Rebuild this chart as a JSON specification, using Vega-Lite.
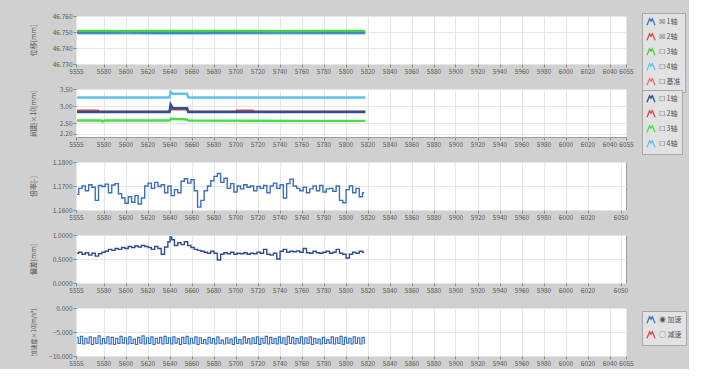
{
  "$schema": "https://vega.github.io/schema/vega-lite/v6.json",
  "background": "#d0d0d0",
  "padding": {"left": 28, "top": 12, "right": 2, "bottom": 2},
  "spacing": 25,
  "bounds": "flush",
  "config": {
    "font": "Noto Sans CJK SC",
    "view": {"fill": "#ffffff", "stroke": "#9c9c9c", "strokeWidth": 1},
    "axis": {"labelFontSize": 6.5, "labelColor": "#5a5a5a", "titleFontSize": 7, "titleColor": "#555555", "titleFontWeight": "normal", "tickColor": "#8a8a8a", "tickSize": 3, "domain": false, "gridColor": "#e6e6e6", "labelPadding": 1},
    "axisX": {"labelFlush": false, "labelOverlap": false, "format": "d", "title": null},
    "axisY": {"titleX": -40},
    "legend": {"orient": "none", "legendX": 566, "fillColor": "#e2e2e2", "strokeColor": "#a8a8a8", "padding": 4, "labelFontSize": 7, "labelColor": "#555555", "symbolType": "M-1,0.8L-0.35,-0.8L0,-0.2L0.35,-0.8L1,0.8", "symbolSize": 64, "symbolStrokeWidth": 1.3, "rowPadding": 3, "labelOffset": 3, "title": null}
  },
  "resolve": {"scale": {"color": "independent", "x": "independent", "y": "independent"}, "legend": {"color": "independent"}},
  "datasets": {
    "p1": [
      {"s": "4轴", "x": 5556, "v": 46.7492}, {"s": "4轴", "x": 5600, "v": 46.7492}, {"s": "4轴", "x": 5640, "v": 46.7491}, {"s": "4轴", "x": 5700, "v": 46.7492}, {"s": "4轴", "x": 5760, "v": 46.7492}, {"s": "4轴", "x": 5818, "v": 46.7492},
      {"s": "1轴", "x": 5556, "v": 46.7497}, {"s": "1轴", "x": 5580, "v": 46.7497}, {"s": "1轴", "x": 5600, "v": 46.7498}, {"s": "1轴", "x": 5620, "v": 46.7497}, {"s": "1轴", "x": 5640, "v": 46.7497}, {"s": "1轴", "x": 5660, "v": 46.7497}, {"s": "1轴", "x": 5700, "v": 46.7497}, {"s": "1轴", "x": 5740, "v": 46.7498}, {"s": "1轴", "x": 5780, "v": 46.7497}, {"s": "1轴", "x": 5818, "v": 46.7497},
      {"s": "3轴", "x": 5556, "v": 46.7506}, {"s": "3轴", "x": 5580, "v": 46.7506}, {"s": "3轴", "x": 5600, "v": 46.7505}, {"s": "3轴", "x": 5620, "v": 46.7506}, {"s": "3轴", "x": 5640, "v": 46.7506}, {"s": "3轴", "x": 5660, "v": 46.7506}, {"s": "3轴", "x": 5700, "v": 46.7506}, {"s": "3轴", "x": 5740, "v": 46.7505}, {"s": "3轴", "x": 5780, "v": 46.7506}, {"s": "3轴", "x": 5818, "v": 46.7506}
    ],
    "p2": [
      {"s": "4轴", "x": 5556, "v": 3.25}, {"s": "4轴", "x": 5600, "v": 3.25}, {"s": "4轴", "x": 5640, "v": 3.25}, {"s": "4轴", "x": 5641, "v": 3.42}, {"s": "4轴", "x": 5643, "v": 3.36}, {"s": "4轴", "x": 5656, "v": 3.36}, {"s": "4轴", "x": 5657, "v": 3.25}, {"s": "4轴", "x": 5700, "v": 3.25}, {"s": "4轴", "x": 5760, "v": 3.25}, {"s": "4轴", "x": 5818, "v": 3.25},
      {"s": "3轴", "x": 5556, "v": 2.58}, {"s": "3轴", "x": 5578, "v": 2.58}, {"s": "3轴", "x": 5579, "v": 2.55}, {"s": "3轴", "x": 5581, "v": 2.58}, {"s": "3轴", "x": 5640, "v": 2.58}, {"s": "3轴", "x": 5641, "v": 2.63}, {"s": "3轴", "x": 5656, "v": 2.61}, {"s": "3轴", "x": 5657, "v": 2.58}, {"s": "3轴", "x": 5760, "v": 2.57}, {"s": "3轴", "x": 5818, "v": 2.57},
      {"s": "2轴", "x": 5556, "v": 2.87}, {"s": "2轴", "x": 5575, "v": 2.87}, {"s": "2轴", "x": 5576, "v": 2.84}, {"s": "2轴", "x": 5640, "v": 2.84}, {"s": "2轴", "x": 5641, "v": 2.91}, {"s": "2轴", "x": 5656, "v": 2.91}, {"s": "2轴", "x": 5657, "v": 2.84}, {"s": "2轴", "x": 5700, "v": 2.84}, {"s": "2轴", "x": 5701, "v": 2.87}, {"s": "2轴", "x": 5716, "v": 2.87}, {"s": "2轴", "x": 5717, "v": 2.84}, {"s": "2轴", "x": 5818, "v": 2.84},
      {"s": "1轴", "x": 5556, "v": 2.83}, {"s": "1轴", "x": 5600, "v": 2.83}, {"s": "1轴", "x": 5640, "v": 2.83}, {"s": "1轴", "x": 5641, "v": 3.05}, {"s": "1轴", "x": 5643, "v": 2.94}, {"s": "1轴", "x": 5656, "v": 2.94}, {"s": "1轴", "x": 5657, "v": 2.83}, {"s": "1轴", "x": 5700, "v": 2.83}, {"s": "1轴", "x": 5760, "v": 2.83}, {"s": "1轴", "x": 5818, "v": 2.83}
    ],
    "p3": [
      {"x": 5556, "v": 1.1665}, {"x": 5559, "v": 1.169}, {"x": 5562, "v": 1.17}, {"x": 5565, "v": 1.168}, {"x": 5568, "v": 1.1705}, {"x": 5571, "v": 1.1695}, {"x": 5574, "v": 1.164}, {"x": 5577, "v": 1.1702}, {"x": 5580, "v": 1.1698}, {"x": 5583, "v": 1.1708}, {"x": 5586, "v": 1.1672}, {"x": 5589, "v": 1.1704}, {"x": 5592, "v": 1.171}, {"x": 5595, "v": 1.1668}, {"x": 5598, "v": 1.165}, {"x": 5601, "v": 1.1628}, {"x": 5604, "v": 1.1655}, {"x": 5607, "v": 1.1632}, {"x": 5610, "v": 1.166}, {"x": 5613, "v": 1.1625}, {"x": 5616, "v": 1.165}, {"x": 5619, "v": 1.17}, {"x": 5622, "v": 1.1712}, {"x": 5625, "v": 1.169}, {"x": 5628, "v": 1.1715}, {"x": 5631, "v": 1.1698}, {"x": 5634, "v": 1.1705}, {"x": 5637, "v": 1.1672}, {"x": 5640, "v": 1.17}, {"x": 5643, "v": 1.166}, {"x": 5646, "v": 1.1685}, {"x": 5649, "v": 1.1672}, {"x": 5652, "v": 1.172}, {"x": 5655, "v": 1.173}, {"x": 5658, "v": 1.1712}, {"x": 5661, "v": 1.1726}, {"x": 5664, "v": 1.168}, {"x": 5667, "v": 1.1612}, {"x": 5670, "v": 1.164}, {"x": 5673, "v": 1.168}, {"x": 5676, "v": 1.17}, {"x": 5679, "v": 1.1722}, {"x": 5682, "v": 1.174}, {"x": 5685, "v": 1.1752}, {"x": 5688, "v": 1.1715}, {"x": 5691, "v": 1.1732}, {"x": 5694, "v": 1.169}, {"x": 5697, "v": 1.171}, {"x": 5700, "v": 1.1675}, {"x": 5703, "v": 1.17}, {"x": 5706, "v": 1.1688}, {"x": 5709, "v": 1.1705}, {"x": 5712, "v": 1.1695}, {"x": 5715, "v": 1.17}, {"x": 5718, "v": 1.168}, {"x": 5721, "v": 1.1698}, {"x": 5724, "v": 1.169}, {"x": 5727, "v": 1.1702}, {"x": 5730, "v": 1.1672}, {"x": 5733, "v": 1.17}, {"x": 5736, "v": 1.1712}, {"x": 5739, "v": 1.169}, {"x": 5742, "v": 1.1705}, {"x": 5745, "v": 1.165}, {"x": 5748, "v": 1.171}, {"x": 5751, "v": 1.1728}, {"x": 5754, "v": 1.17}, {"x": 5757, "v": 1.169}, {"x": 5760, "v": 1.168}, {"x": 5763, "v": 1.1695}, {"x": 5766, "v": 1.1672}, {"x": 5769, "v": 1.1688}, {"x": 5772, "v": 1.17}, {"x": 5775, "v": 1.168}, {"x": 5778, "v": 1.1702}, {"x": 5781, "v": 1.1675}, {"x": 5784, "v": 1.1688}, {"x": 5787, "v": 1.169}, {"x": 5790, "v": 1.1678}, {"x": 5793, "v": 1.17}, {"x": 5796, "v": 1.164}, {"x": 5799, "v": 1.163}, {"x": 5802, "v": 1.1685}, {"x": 5805, "v": 1.17}, {"x": 5808, "v": 1.1672}, {"x": 5811, "v": 1.169}, {"x": 5814, "v": 1.1655}, {"x": 5817, "v": 1.1672}
    ],
    "p4": [
      {"x": 5556, "v": 0.62}, {"x": 5559, "v": 0.64}, {"x": 5562, "v": 0.6}, {"x": 5565, "v": 0.63}, {"x": 5568, "v": 0.58}, {"x": 5571, "v": 0.62}, {"x": 5574, "v": 0.56}, {"x": 5577, "v": 0.61}, {"x": 5580, "v": 0.64}, {"x": 5583, "v": 0.66}, {"x": 5586, "v": 0.7}, {"x": 5589, "v": 0.68}, {"x": 5592, "v": 0.72}, {"x": 5595, "v": 0.7}, {"x": 5598, "v": 0.74}, {"x": 5601, "v": 0.72}, {"x": 5604, "v": 0.76}, {"x": 5607, "v": 0.74}, {"x": 5610, "v": 0.77}, {"x": 5613, "v": 0.75}, {"x": 5616, "v": 0.78}, {"x": 5619, "v": 0.76}, {"x": 5622, "v": 0.74}, {"x": 5625, "v": 0.7}, {"x": 5628, "v": 0.76}, {"x": 5631, "v": 0.72}, {"x": 5634, "v": 0.6}, {"x": 5637, "v": 0.75}, {"x": 5640, "v": 0.86}, {"x": 5641, "v": 0.96}, {"x": 5643, "v": 0.9}, {"x": 5646, "v": 0.78}, {"x": 5649, "v": 0.84}, {"x": 5652, "v": 0.8}, {"x": 5655, "v": 0.86}, {"x": 5658, "v": 0.78}, {"x": 5661, "v": 0.74}, {"x": 5664, "v": 0.7}, {"x": 5667, "v": 0.68}, {"x": 5670, "v": 0.66}, {"x": 5673, "v": 0.64}, {"x": 5676, "v": 0.62}, {"x": 5679, "v": 0.66}, {"x": 5682, "v": 0.62}, {"x": 5685, "v": 0.48}, {"x": 5688, "v": 0.6}, {"x": 5691, "v": 0.63}, {"x": 5694, "v": 0.61}, {"x": 5697, "v": 0.64}, {"x": 5700, "v": 0.6}, {"x": 5703, "v": 0.62}, {"x": 5706, "v": 0.61}, {"x": 5709, "v": 0.63}, {"x": 5712, "v": 0.6}, {"x": 5715, "v": 0.62}, {"x": 5718, "v": 0.61}, {"x": 5721, "v": 0.64}, {"x": 5724, "v": 0.62}, {"x": 5727, "v": 0.7}, {"x": 5730, "v": 0.6}, {"x": 5733, "v": 0.58}, {"x": 5736, "v": 0.62}, {"x": 5739, "v": 0.5}, {"x": 5742, "v": 0.66}, {"x": 5745, "v": 0.7}, {"x": 5748, "v": 0.64}, {"x": 5751, "v": 0.66}, {"x": 5754, "v": 0.65}, {"x": 5757, "v": 0.67}, {"x": 5760, "v": 0.64}, {"x": 5763, "v": 0.72}, {"x": 5766, "v": 0.63}, {"x": 5769, "v": 0.62}, {"x": 5772, "v": 0.66}, {"x": 5775, "v": 0.63}, {"x": 5778, "v": 0.62}, {"x": 5781, "v": 0.64}, {"x": 5784, "v": 0.66}, {"x": 5787, "v": 0.62}, {"x": 5790, "v": 0.64}, {"x": 5793, "v": 0.7}, {"x": 5796, "v": 0.62}, {"x": 5799, "v": 0.6}, {"x": 5802, "v": 0.52}, {"x": 5805, "v": 0.6}, {"x": 5808, "v": 0.64}, {"x": 5811, "v": 0.62}, {"x": 5814, "v": 0.66}, {"x": 5817, "v": 0.64}
    ],
    "p5": [
      {"s": "加速", "x": 5556, "v": -6.1}, {"s": "加速", "x": 5558, "v": -7.4}, {"s": "加速", "x": 5560, "v": -5.9}, {"s": "加速", "x": 5562, "v": -7.5}, {"s": "加速", "x": 5564, "v": -6.3}, {"s": "加速", "x": 5566, "v": -7.3}, {"s": "加速", "x": 5568, "v": -6.0}, {"s": "加速", "x": 5570, "v": -7.6}, {"s": "加速", "x": 5572, "v": -6.2}, {"s": "加速", "x": 5574, "v": -7.4}, {"s": "加速", "x": 5576, "v": -5.8}, {"s": "加速", "x": 5578, "v": -7.5}, {"s": "加速", "x": 5580, "v": -6.4}, {"s": "加速", "x": 5582, "v": -7.3}, {"s": "加速", "x": 5584, "v": -6.0}, {"s": "加速", "x": 5586, "v": -7.5}, {"s": "加速", "x": 5588, "v": -6.1}, {"s": "加速", "x": 5590, "v": -7.6}, {"s": "加速", "x": 5592, "v": -6.3}, {"s": "加速", "x": 5594, "v": -7.4}, {"s": "加速", "x": 5596, "v": -5.9}, {"s": "加速", "x": 5598, "v": -7.3}, {"s": "加速", "x": 5600, "v": -6.2}, {"s": "加速", "x": 5602, "v": -7.5}, {"s": "加速", "x": 5604, "v": -6.0}, {"s": "加速", "x": 5606, "v": -7.4}, {"s": "加速", "x": 5608, "v": -6.5}, {"s": "加速", "x": 5610, "v": -7.6}, {"s": "加速", "x": 5612, "v": -6.1}, {"s": "加速", "x": 5614, "v": -7.3}, {"s": "加速", "x": 5616, "v": -5.8}, {"s": "加速", "x": 5618, "v": -7.5}, {"s": "加速", "x": 5620, "v": -6.2}, {"s": "加速", "x": 5622, "v": -7.4}, {"s": "加速", "x": 5624, "v": -6.0}, {"s": "加速", "x": 5626, "v": -7.6}, {"s": "加速", "x": 5628, "v": -6.3}, {"s": "加速", "x": 5630, "v": -7.3}, {"s": "加速", "x": 5632, "v": -6.1}, {"s": "加速", "x": 5634, "v": -7.5}, {"s": "加速", "x": 5636, "v": -5.9}, {"s": "加速", "x": 5638, "v": -7.4}, {"s": "加速", "x": 5640, "v": -6.2}, {"s": "加速", "x": 5642, "v": -7.5}, {"s": "加速", "x": 5644, "v": -6.0}, {"s": "加速", "x": 5646, "v": -7.3}, {"s": "加速", "x": 5648, "v": -6.4}, {"s": "加速", "x": 5650, "v": -7.6}, {"s": "加速", "x": 5652, "v": -6.1}, {"s": "加速", "x": 5654, "v": -7.4}, {"s": "加速", "x": 5656, "v": -5.9}, {"s": "加速", "x": 5658, "v": -7.5}, {"s": "加速", "x": 5660, "v": -6.3}, {"s": "加速", "x": 5662, "v": -7.3}, {"s": "加速", "x": 5664, "v": -6.0}, {"s": "加速", "x": 5666, "v": -7.6}, {"s": "加速", "x": 5668, "v": -6.2}, {"s": "加速", "x": 5670, "v": -7.4}, {"s": "加速", "x": 5672, "v": -6.6}, {"s": "加速", "x": 5674, "v": -7.5}, {"s": "加速", "x": 5676, "v": -6.1}, {"s": "加速", "x": 5678, "v": -7.3}, {"s": "加速", "x": 5680, "v": -6.4}, {"s": "加速", "x": 5682, "v": -7.5}, {"s": "加速", "x": 5684, "v": -6.0}, {"s": "加速", "x": 5686, "v": -7.4}, {"s": "加速", "x": 5688, "v": -6.7}, {"s": "加速", "x": 5690, "v": -7.5}, {"s": "加速", "x": 5692, "v": -6.2}, {"s": "加速", "x": 5694, "v": -7.3}, {"s": "加速", "x": 5696, "v": -6.5}, {"s": "加速", "x": 5698, "v": -7.6}, {"s": "加速", "x": 5700, "v": -6.1}, {"s": "加速", "x": 5702, "v": -7.4}, {"s": "加速", "x": 5704, "v": -6.6}, {"s": "加速", "x": 5706, "v": -7.5}, {"s": "加速", "x": 5708, "v": -6.0}, {"s": "加速", "x": 5710, "v": -7.3}, {"s": "加速", "x": 5712, "v": -6.4}, {"s": "加速", "x": 5714, "v": -7.5}, {"s": "加速", "x": 5716, "v": -6.2}, {"s": "加速", "x": 5718, "v": -7.4}, {"s": "加速", "x": 5720, "v": -6.0}, {"s": "加速", "x": 5722, "v": -7.6}, {"s": "加速", "x": 5724, "v": -6.3}, {"s": "加速", "x": 5726, "v": -7.3}, {"s": "加速", "x": 5728, "v": -5.9}, {"s": "加速", "x": 5730, "v": -7.5}, {"s": "加速", "x": 5732, "v": -6.1}, {"s": "加速", "x": 5734, "v": -7.4}, {"s": "加速", "x": 5736, "v": -6.3}, {"s": "加速", "x": 5738, "v": -7.5}, {"s": "加速", "x": 5740, "v": -6.0}, {"s": "加速", "x": 5742, "v": -7.3}, {"s": "加速", "x": 5744, "v": -6.2}, {"s": "加速", "x": 5746, "v": -7.6}, {"s": "加速", "x": 5748, "v": -5.9}, {"s": "加速", "x": 5750, "v": -7.4}, {"s": "加速", "x": 5752, "v": -6.1}, {"s": "加速", "x": 5754, "v": -7.5}, {"s": "加速", "x": 5756, "v": -6.4}, {"s": "加速", "x": 5758, "v": -7.3}, {"s": "加速", "x": 5760, "v": -6.0}, {"s": "加速", "x": 5762, "v": -7.5}, {"s": "加速", "x": 5764, "v": -6.2}, {"s": "加速", "x": 5766, "v": -7.4}, {"s": "加速", "x": 5768, "v": -6.0}, {"s": "加速", "x": 5770, "v": -7.6}, {"s": "加速", "x": 5772, "v": -6.3}, {"s": "加速", "x": 5774, "v": -7.3}, {"s": "加速", "x": 5776, "v": -6.5}, {"s": "加速", "x": 5778, "v": -7.5}, {"s": "加速", "x": 5780, "v": -6.1}, {"s": "加速", "x": 5782, "v": -7.4}, {"s": "加速", "x": 5784, "v": -6.6}, {"s": "加速", "x": 5786, "v": -7.3}, {"s": "加速", "x": 5788, "v": -6.0}, {"s": "加速", "x": 5790, "v": -7.5}, {"s": "加速", "x": 5792, "v": -6.2}, {"s": "加速", "x": 5794, "v": -7.4}, {"s": "加速", "x": 5796, "v": -5.9}, {"s": "加速", "x": 5798, "v": -7.6}, {"s": "加速", "x": 5800, "v": -6.1}, {"s": "加速", "x": 5802, "v": -7.3}, {"s": "加速", "x": 5804, "v": -6.3}, {"s": "加速", "x": 5806, "v": -7.5}, {"s": "加速", "x": 5808, "v": -6.0}, {"s": "加速", "x": 5810, "v": -7.4}, {"s": "加速", "x": 5812, "v": -6.2}, {"s": "加速", "x": 5814, "v": -7.5}, {"s": "加速", "x": 5816, "v": -6.1}, {"s": "加速", "x": 5818, "v": -7.3}
    ]
  },
  "vconcat": [
    {
      "width": 550, "height": 48,
      "data": {"name": "p1"},
      "mark": {"type": "line", "strokeWidth": 2.6},
      "encoding": {
        "x": {"field": "x", "type": "quantitative", "scale": {"domain": [5555, 6055], "nice": false, "zero": false}, "axis": {"values": [5555, 5580, 5600, 5620, 5640, 5660, 5680, 5700, 5720, 5740, 5760, 5780, 5800, 5820, 5840, 5860, 5880, 5900, 5920, 5940, 5960, 5980, 6000, 6020, 6040, 6055]}},
        "y": {"field": "v", "type": "quantitative", "scale": {"domain": [46.73, 46.76], "nice": false, "zero": false}, "axis": {"values": [46.73, 46.74, 46.75, 46.76], "format": ".3f", "title": "位移[mm]"}},
        "color": {"field": "s", "type": "nominal", "scale": {"domain": ["1轴", "2轴", "3轴", "4轴", "基准"], "range": ["#3b74c6", "#e0473f", "#45d145", "#5fc1ec", "#e87070"]}, "legend": {"legendY": -3, "labelExpr": "(datum.label == '1轴' || datum.label == '2轴' ? '☒ ' : '☐ ') + datum.label"}}
      }
    },
    {
      "width": 550, "height": 48,
      "data": {"name": "p2"},
      "mark": {"type": "line", "strokeWidth": 2.4},
      "encoding": {
        "x": {"field": "x", "type": "quantitative", "scale": {"domain": [5555, 6055], "nice": false, "zero": false}, "axis": {"values": [5555, 5580, 5600, 5620, 5640, 5660, 5680, 5700, 5720, 5740, 5760, 5780, 5800, 5820, 5840, 5860, 5880, 5900, 5920, 5940, 5960, 5980, 6000, 6020, 6040, 6055]}},
        "y": {"field": "v", "type": "quantitative", "scale": {"domain": [2.1, 3.5], "nice": false, "zero": false}, "axis": {"values": [2.2, 2.5, 3.0, 3.5], "format": ".2f", "title": "间距×10[mm]"}},
        "color": {"field": "s", "type": "nominal", "scale": {"domain": ["1轴", "2轴", "3轴", "4轴"], "range": ["#2f4f94", "#e0473f", "#45e045", "#5fc1ec"]}, "legend": {"legendY": 1, "labelExpr": "'☐ ' + datum.label"}}
      }
    },
    {
      "width": 550, "height": 48,
      "data": {"name": "p3"},
      "mark": {"type": "line", "strokeWidth": 1.4, "interpolate": "step", "color": "#3d6fb8"},
      "encoding": {
        "x": {"field": "x", "type": "quantitative", "scale": {"domain": [5555, 6055], "nice": false, "zero": false}, "axis": {"values": [5555, 5580, 5600, 5620, 5640, 5660, 5680, 5700, 5720, 5740, 5760, 5780, 5800, 5820, 5840, 5860, 5880, 5900, 5920, 5940, 5960, 5980, 6000, 6020, 6050]}},
        "y": {"field": "v", "type": "quantitative", "scale": {"domain": [1.16, 1.18], "nice": false, "zero": false}, "axis": {"values": [1.16, 1.17, 1.18], "format": ".4f", "title": "倍率[-]"}}
      }
    },
    {
      "width": 550, "height": 48,
      "data": {"name": "p4"},
      "mark": {"type": "line", "strokeWidth": 1.4, "interpolate": "step", "color": "#2f4f8c"},
      "encoding": {
        "x": {"field": "x", "type": "quantitative", "scale": {"domain": [5555, 6055], "nice": false, "zero": false}, "axis": {"values": [5555, 5580, 5600, 5620, 5640, 5660, 5680, 5700, 5720, 5740, 5760, 5780, 5800, 5820, 5840, 5860, 5880, 5900, 5920, 5940, 5960, 5980, 6000, 6020, 6050]}},
        "y": {"field": "v", "type": "quantitative", "scale": {"domain": [0, 1], "nice": false, "zero": false}, "axis": {"values": [0, 0.5, 1], "format": ".4f", "title": "偏差[mm]"}}
      }
    },
    {
      "width": 550, "height": 48,
      "data": {"name": "p5"},
      "mark": {"type": "line", "strokeWidth": 1.2, "interpolate": "step"},
      "encoding": {
        "x": {"field": "x", "type": "quantitative", "scale": {"domain": [5555, 6055], "nice": false, "zero": false}, "axis": {"values": [5555, 5580, 5600, 5620, 5640, 5660, 5680, 5700, 5720, 5740, 5760, 5780, 5800, 5820, 5840, 5860, 5880, 5900, 5920, 5940, 5960, 5980, 6000, 6020, 6040, 6055]}},
        "y": {"field": "v", "type": "quantitative", "scale": {"domain": [-10, 0], "nice": false, "zero": false}, "axis": {"values": [-10, -5, 0], "format": ".3f", "title": "加速度×10[m/s²]", "titleFontSize": 6}},
        "color": {"field": "s", "type": "nominal", "scale": {"domain": ["加速", "减速"], "range": ["#3a72c8", "#e0473f"]}, "legend": {"legendY": 3, "labelExpr": "(datum.label == '加速' ? '◉ ' : '○ ') + datum.label"}}
      }
    }
  ]
}
